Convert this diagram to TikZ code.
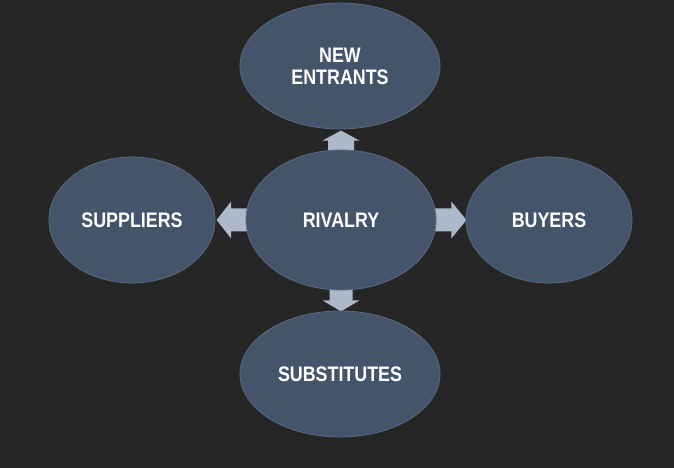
\documentclass[tikz,border=0pt]{standalone}
\usepackage{fontspec}
\newfontfamily\labfont[FakeStretch=0.85]{Liberation Sans}
\usetikzlibrary{shapes.geometric}
\definecolor{bgcol}{HTML}{262626}
\definecolor{ellfill}{HTML}{44546A}
\definecolor{elledge}{HTML}{5A6A80}
\definecolor{arrfill}{HTML}{ADB9CA}
\pgfdeclarelayer{bglayer}
\pgfdeclarelayer{arrlayer}
\pgfsetlayers{bglayer,arrlayer,main}
\newcommand\blockarr[5]{%
  \begin{scope}[shift={(#1)},rotate=#2]
    \fill[arrfill] (-4,-#5) -- ({#3-#4},-#5) -- ({#3-#4},-18.5) -- (#3,0)
      -- ({#3-#4},18.5) -- ({#3-#4},#5) -- (-4,#5) -- cycle;
  \end{scope}}
\begin{document}
\begin{tikzpicture}[x=1pt,y=1pt,
  force/.style={ellipse,fill=ellfill,draw=elledge,line width=0.8pt,inner sep=0pt,
    text=white,align=center,font=\labfont\bfseries\fontsize{21}{22}\selectfont},
  bigforce/.style={force,minimum width=200pt,minimum height=126pt},
  sideforce/.style={force,minimum width=166pt,minimum height=126pt}]
\begin{pgfonlayer}{bglayer}
\fill[bgcol] (0,0) rectangle (674,468);
\end{pgfonlayer}
\useasboundingbox (0,0) rectangle (674,468);
\node[bigforce] (ne) at (340,402) {NEW\\ENTRANTS};
\node[force,minimum width=190pt,minimum height=140pt] (riv) at (341,248) {RIVALRY};
\node[sideforce] (sup) at (132,248) {SUPPLIERS};
\node[sideforce] (buy) at (549,248) {BUYERS};
\node[bigforce] (sub) at (340,94) {SUBSTITUTES};
\begin{pgfonlayer}{arrlayer}
\blockarr{riv.north}{90}{19}{10}{13}
\blockarr{riv.south}{-90}{21}{11}{11.5}
\blockarr{riv.west}{180}{29}{14.5}{11.5}
\blockarr{riv.east}{0}{30}{15}{11.5}
\end{pgfonlayer}
\end{tikzpicture}
\end{document}
